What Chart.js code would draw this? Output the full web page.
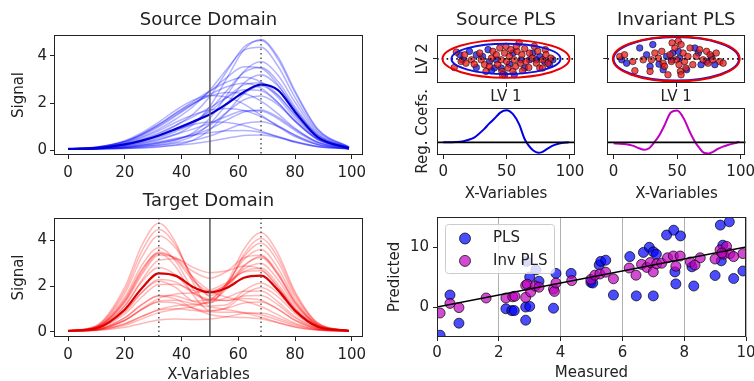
<!DOCTYPE html>
<html lang="en">
  <head>
    <meta charset="UTF-8" />
    <meta name="viewport" content="width=device-width, initial-scale=1.0" />
    <title>Source vs invariant PLS</title>
    <script src="https://cdn.jsdelivr.net/npm/chart.js"></script>
    <style>
      html, body { margin: 0; padding: 0; background: #fff; overflow: hidden; }
      #fig { position: relative; width: 754px; height: 381px; overflow: hidden; background: #fff; }
      .panel { position: absolute; }
    </style>
  </head>
  <body>
    <div id="fig">
      <div class="panel" style="left:0;top:0;width:380px;height:190px"><canvas id="srcSpectra"></canvas></div>
      <div class="panel" style="left:0;top:190px;width:380px;height:194px"><canvas id="tgtSpectra"></canvas></div>
      <div class="panel" style="left:380px;top:0;width:200px;height:106px"><canvas id="srcScores"></canvas></div>
      <div class="panel" style="left:590px;top:0;width:160px;height:106px"><canvas id="invScores"></canvas></div>
      <div class="panel" style="left:380px;top:80px;width:212px;height:123px"><canvas id="srcCoefs"></canvas></div>
      <div class="panel" style="left:590px;top:80px;width:164px;height:123px"><canvas id="invCoefs"></canvas></div>
      <div class="panel" style="left:380px;top:190px;width:374px;height:194px"><canvas id="predPlot"></canvas></div>
    </div>
    <script>
      // ---- spectra (x grid shared by both domains) ----
      const xGrid = [0, 10, 20, 26, 32, 38, 44, 50, 56, 62, 68, 74, 80, 88, 99];
      const spectraTicks = [0, 20, 40, 60, 80, 100];
      const signalTicks = [0, 2, 4];

      const sourceSpectra = [
        [0.05, 0.13, 0.40, 0.74, 1.19, 1.70, 2.11, 2.32, 2.25, 1.95, 1.48, 1.00, 0.57, 0.22, 0.06],
        [0.05, 0.12, 0.37, 0.68, 1.09, 1.56, 1.99, 2.30, 2.45, 2.40, 2.08, 1.54, 0.92, 0.34, 0.08],
        [0.05, 0.11, 0.34, 0.62, 0.99, 1.45, 1.94, 2.49, 3.09, 3.54, 3.48, 2.77, 1.71, 0.62, 0.10],
        [0.05, 0.10, 0.30, 0.56, 0.89, 1.32, 1.84, 2.55, 3.45, 4.25, 4.37, 3.56, 2.23, 0.80, 0.12],
        [0.05, 0.10, 0.29, 0.52, 0.82, 1.18, 1.49, 1.70, 1.77, 1.68, 1.42, 1.04, 0.62, 0.24, 0.06],
        [0.05, 0.09, 0.26, 0.46, 0.73, 1.06, 1.41, 1.81, 2.24, 2.56, 2.52, 2.00, 1.25, 0.46, 0.08],
        [0.05, 0.09, 0.24, 0.43, 0.68, 1.04, 1.52, 2.28, 3.36, 4.38, 4.66, 3.86, 2.44, 0.87, 0.13],
        [0.05, 0.08, 0.21, 0.36, 0.57, 0.85, 1.18, 1.64, 2.24, 2.77, 2.86, 2.34, 1.47, 0.53, 0.09],
        [0.05, 0.08, 0.19, 0.33, 0.52, 0.79, 1.15, 1.72, 2.53, 3.30, 3.51, 2.91, 1.84, 0.66, 0.10],
        [0.05, 0.07, 0.17, 0.30, 0.46, 0.67, 0.89, 1.15, 1.44, 1.67, 1.66, 1.33, 0.83, 0.31, 0.07],
        [0.05, 0.07, 0.16, 0.27, 0.43, 0.67, 1.08, 1.86, 3.06, 4.26, 4.70, 3.96, 2.52, 0.90, 0.13],
        [0.05, 0.06, 0.14, 0.23, 0.35, 0.50, 0.63, 0.74, 0.82, 0.83, 0.75, 0.58, 0.36, 0.15, 0.05],
        [0.04, 0.06, 0.12, 0.20, 0.31, 0.46, 0.69, 1.06, 1.61, 2.14, 2.30, 1.92, 1.22, 0.45, 0.08],
        [0.04, 0.06, 0.11, 0.17, 0.27, 0.42, 0.73, 1.35, 2.34, 3.35, 3.75, 3.18, 2.03, 0.73, 0.11],
        [0.04, 0.05, 0.09, 0.14, 0.20, 0.29, 0.41, 0.60, 0.87, 1.13, 1.20, 1.00, 0.64, 0.25, 0.06],
        [0.04, 0.05, 0.07, 0.10, 0.15, 0.20, 0.27, 0.37, 0.50, 0.62, 0.64, 0.53, 0.35, 0.15, 0.05],
        [0.04, 0.05, 0.07, 0.09, 0.13, 0.22, 0.41, 0.87, 1.61, 2.39, 2.72, 2.32, 1.50, 0.54, 0.09],
        [0.05, 0.12, 0.35, 0.65, 1.04, 1.50, 1.95, 2.36, 2.69, 2.84, 2.63, 2.02, 1.23, 0.45, 0.09],
        [0.05, 0.08, 0.22, 0.39, 0.61, 0.87, 1.08, 1.19, 1.17, 1.04, 0.81, 0.56, 0.33, 0.14, 0.05],
        [0.04, 0.06, 0.12, 0.20, 0.31, 0.45, 0.63, 0.90, 1.28, 1.62, 1.70, 1.40, 0.89, 0.33, 0.07],
        [0.05, 0.12, 0.37, 0.68, 1.09, 1.58, 2.06, 2.51, 2.89, 3.09, 2.88, 2.23, 1.36, 0.49, 0.09],
        [0.04, 0.05, 0.09, 0.14, 0.21, 0.34, 0.59, 1.12, 1.97, 2.85, 3.20, 2.72, 1.74, 0.63, 0.10],
      ];
      const sourceMean = [0.05, 0.08, 0.24, 0.40, 0.62, 0.90, 1.20, 1.52, 1.97, 2.47, 2.78, 2.55, 1.62, 0.55, 0.07];

      const targetSpectra = [
        [0.05, 0.26, 1.81, 3.52, 4.46, 3.76, 2.32, 1.59, 2.09, 3.28, 3.86, 3.04, 1.57, 0.36, 0.05],
        [0.05, 0.24, 1.68, 3.26, 4.19, 3.64, 2.36, 1.52, 1.37, 1.57, 1.59, 1.18, 0.61, 0.16, 0.04],
        [0.05, 0.22, 1.51, 2.91, 3.67, 3.06, 1.86, 1.34, 2.01, 3.38, 4.07, 3.23, 1.67, 0.38, 0.05],
        [0.05, 0.21, 1.37, 2.67, 3.48, 3.14, 2.25, 1.78, 2.06, 2.74, 2.98, 2.27, 1.17, 0.28, 0.05],
        [0.05, 0.20, 1.32, 2.58, 3.41, 3.18, 2.39, 1.79, 1.51, 1.35, 1.11, 0.74, 0.38, 0.12, 0.04],
        [0.05, 0.18, 1.13, 2.18, 2.80, 2.47, 1.70, 1.38, 1.89, 2.86, 3.30, 2.58, 1.33, 0.31, 0.05],
        [0.05, 0.18, 1.14, 2.26, 3.12, 3.19, 2.81, 2.58, 2.66, 2.87, 2.72, 1.94, 0.98, 0.24, 0.05],
        [0.05, 0.15, 0.90, 1.73, 2.22, 1.93, 1.34, 1.26, 2.14, 3.60, 4.32, 3.41, 1.76, 0.40, 0.05],
        [0.04, 0.15, 0.88, 1.71, 2.28, 2.17, 1.71, 1.41, 1.37, 1.46, 1.38, 0.99, 0.51, 0.14, 0.04],
        [0.04, 0.14, 0.78, 1.52, 2.07, 2.08, 1.81, 1.74, 2.08, 2.63, 2.77, 2.08, 1.06, 0.26, 0.04],
        [0.04, 0.11, 0.61, 1.18, 1.59, 1.57, 1.35, 1.43, 2.12, 3.16, 3.59, 2.78, 1.43, 0.33, 0.05],
        [0.04, 0.10, 0.51, 0.98, 1.30, 1.26, 1.03, 0.91, 1.03, 1.26, 1.30, 0.98, 0.51, 0.14, 0.04],
        [0.04, 0.10, 0.51, 1.00, 1.46, 1.65, 1.70, 1.82, 2.16, 2.61, 2.66, 1.96, 1.00, 0.25, 0.04],
        [0.04, 0.08, 0.36, 0.68, 0.95, 1.01, 0.94, 0.88, 0.86, 0.85, 0.75, 0.52, 0.27, 0.09, 0.04],
        [0.04, 0.08, 0.35, 0.67, 0.98, 1.14, 1.19, 1.28, 1.50, 1.77, 1.78, 1.31, 0.67, 0.18, 0.04],
        [0.04, 0.06, 0.20, 0.37, 0.52, 0.56, 0.54, 0.56, 0.66, 0.80, 0.82, 0.61, 0.33, 0.10, 0.04],
        [0.04, 0.10, 0.50, 0.97, 1.34, 1.38, 1.23, 1.09, 0.97, 0.83, 0.64, 0.41, 0.21, 0.08, 0.04],
        [0.05, 0.21, 1.41, 2.73, 3.43, 2.83, 1.63, 0.93, 1.06, 1.63, 1.93, 1.53, 0.80, 0.20, 0.04],
        [0.04, 0.08, 0.29, 0.57, 0.84, 0.99, 1.10, 1.37, 2.02, 2.90, 3.24, 2.49, 1.28, 0.30, 0.05],
        [0.05, 0.20, 1.27, 2.49, 3.34, 3.23, 2.64, 2.34, 2.64, 3.23, 3.34, 2.49, 1.27, 0.30, 0.05],
        [0.04, 0.11, 0.62, 1.20, 1.56, 1.43, 1.04, 0.76, 0.66, 0.63, 0.56, 0.40, 0.21, 0.08, 0.04],
        [0.05, 0.27, 1.95, 3.77, 4.73, 3.87, 2.17, 1.13, 1.18, 1.80, 2.13, 1.69, 0.88, 0.22, 0.05],
      ];
      const targetMean = [0.05, 0.16, 0.98, 1.90, 2.55, 2.44, 1.96, 1.72, 1.92, 2.36, 2.45, 1.82, 0.93, 0.23, 0.05];

      // reference positions marked on the spectra
      const splitVariable = [50];
      const sourcePeaks = [68];
      const targetPeaks = [32, 68];

      // ---- latent-variable scores ----
      const srcRedLV1 = [-0.72, -0.75, -0.65, -0.58, -0.50, -0.46, -0.38, -0.36, -0.31, -0.29, -0.21, -0.19, -0.14, -0.12, -0.09, -0.07, -0.06, -0.05, -0.02, 0.00, 0.01, 0.03, 0.05, 0.07, 0.10, 0.12, 0.14, 0.16, 0.19, 0.21, 0.23, 0.24, 0.27, 0.29, 0.33, 0.34, 0.38, 0.41, 0.44, 0.46, 0.49, 0.53, 0.57, 0.58, 0.61, 0.65, -0.60, -0.24, 0.15, 0.53];
      const srcRedLV2 = [0.28, -0.36, -0.11, -0.18, -0.04, -0.22, 0.24, -0.04, -0.24, -0.52, 0.03, 0.31, 0.17, -0.24, 0.45, -0.04, -0.52, -0.66, 0.24, 0.52, -0.11, -0.38, 0.10, 0.38, -0.52, -0.04, -0.31, 0.31, 0.66, -0.18, 0.17, -0.49, 0.42, -0.11, -0.36, 0.24, 0.03, 0.52, -0.18, 0.31, -0.38, -0.04, 0.38, 0.17, -0.18, 0.03, 0.17, -0.31, 0.52, -0.38];
      const srcBlueLV1 = [-0.67, -0.63, -0.53, -0.43, -0.34, -0.26, -0.24, -0.17, -0.14, -0.07, -0.02, 0.05, 0.10, 0.12, 0.22, 0.27, 0.34, 0.39, 0.44, 0.49, 0.56, 0.63, 0.68, -0.43, -0.21];
      const srcBlueLV2 = [0.17, -0.04, 0.31, -0.36, 0.10, 0.38, -0.11, -0.38, -0.04, -0.38, -0.66, -0.22, 0.24, -0.66, -0.04, -0.38, -0.04, 0.24, -0.04, 0.10, -0.11, -0.24, -0.04, 0.17, -0.49];
      const invRedLV1 = [-0.82, -0.75, -0.63, -0.60, -0.48, -0.38, -0.31, -0.26, -0.21, -0.19, -0.17, -0.09, -0.06, -0.02, 0.00, 0.03, 0.04, 0.06, 0.07, 0.10, 0.12, 0.14, 0.17, 0.20, 0.24, 0.29, 0.34, 0.39, 0.44, 0.46, 0.49, 0.53, 0.58, 0.63, 0.68, -0.36, -0.12, 0.07, -0.07];
      const invRedLV2 = [0.10, 0.17, -0.11, -0.49, -0.04, -0.52, 0.24, 0.03, 0.31, -0.18, -0.31, 0.17, 0.66, 0.45, -0.04, 0.73, -0.24, -0.52, 0.59, 0.24, -0.11, -0.38, 0.10, 0.45, -0.24, 0.10, 0.38, -0.04, 0.31, -0.18, 0.17, -0.04, 0.24, -0.11, -0.18, -0.04, -0.66, -0.66, -0.11];
      const invBlueLV1 = [-0.79, -0.72, -0.53, -0.43, -0.38, -0.34, -0.19, -0.14, -0.07, -0.05, 0.03, 0.05, 0.15, 0.27, 0.32, 0.44, 0.51, 0.56, 0.36, -0.25];
      const invBlueLV2 = [-0.04, -0.18, 0.45, 0.17, -0.31, 0.59, -0.45, 0.10, -0.04, 0.24, 0.31, 0.03, -0.45, 0.45, 0.24, -0.11, 0.10, -0.24, -0.24, -0.22];
      // confidence ellipses: semi-axes along LV1, LV2
      const scoreCenter = [0, 0];
      const srcEllipseBlue = [0.79, 0.63];
      const srcEllipseRed = [0.92, 0.78];
      const invEllipseBlue = [0.91, 0.90];
      const invEllipseRed = [0.92, 0.93];

      // ---- regression coefficients ----
      const coefX = [0, 5, 10, 15, 20, 24, 28, 32, 36, 40, 45, 50, 55, 60, 64, 67, 71, 75, 78, 82, 86, 90, 95, 99];
      const srcCoefs = [0.0, 0.0, 0.01, 0.03, 0.08, 0.14, 0.26, 0.40, 0.57, 0.72, 0.92, 0.99, 0.87, 0.55, 0.12, -0.08, -0.25, -0.32, -0.30, -0.20, -0.11, -0.05, -0.01, 0.0];
      const invCoefs = [-0.03, -0.04, -0.06, -0.10, -0.18, -0.23, -0.18, 0.0, 0.22, 0.52, 0.92, 0.98, 0.75, 0.32, 0.02, -0.15, -0.32, -0.34, -0.30, -0.20, -0.13, -0.08, -0.03, 0.02];
      const coefTicks = [0, 50, 100];

      // ---- measured vs predicted ----
      const plsMeasured = [0.10, 0.42, 0.71, 2.23, 2.42, 2.50, 2.87, 2.87, 3.00, 2.90, 3.20, 3.00, 3.30, 3.77, 3.85, 4.34, 4.98, 5.04, 5.25, 5.30, 5.46, 5.71, 6.24, 6.45, 6.68, 6.87, 7.00, 7.10, 7.00, 7.43, 7.66, 7.88, 7.70, 7.73, 8.25, 8.31, 9.00, 9.17, 9.46, 9.25, 9.20, 9.60, 9.90];
      const plsPredicted = [-4.7, 2.0, -2.7, -0.3, -0.6, -0.6, 0.0, -2.2, 0.1, 7.6, 6.2, 5.0, 4.3, -0.2, 5.6, 5.6, 4.1, 4.0, 7.0, 7.6, 7.8, 2.0, 8.4, 1.85, 9.1, 9.95, 9.2, 8.8, 1.85, 12.0, 12.8, 11.85, 5.85, 3.85, 6.7, 3.5, 5.25, 13.65, 14.2, 10.3, 7.7, 4.75, 6.0];
      const invMeasured = [0.10, 0.42, 0.71, 1.59, 2.23, 2.45, 2.52, 2.87, 2.87, 2.92, 3.03, 3.18, 3.30, 3.77, 3.80, 3.85, 4.36, 4.98, 5.11, 5.27, 5.46, 5.71, 6.22, 6.44, 6.62, 6.79, 6.90, 7.00, 7.11, 7.27, 7.46, 7.65, 7.73, 7.87, 8.20, 8.35, 8.52, 9.00, 9.16, 9.27, 9.37, 9.48, 9.60, 9.90, 9.22];
      const invPredicted = [-1.0, 0.6, -0.1, 1.5, 1.5, 1.7, 1.8, 1.6, 3.6, 3.8, 2.5, 3.5, 3.3, 3.0, 2.6, 4.0, 4.4, 4.6, 5.3, 5.5, 5.8, 4.7, 6.5, 5.3, 7.1, 6.6, 7.4, 5.85, 7.2, 7.3, 8.2, 8.5, 6.8, 8.5, 7.5, 7.0, 8.2, 8.0, 9.5, 8.8, 10.1, 8.9, 8.4, 8.9, 9.0];
      const identityRange = [0, 10];
      const measuredTicks = [0, 2, 4, 6, 8, 10];
      const predictedTicks = [0, 10];

      Chart.defaults.font.family = "'DejaVu Sans', sans-serif";
      Chart.defaults.font.size = 15;
      Chart.defaults.color = "#222";
      Chart.defaults.animation = false;
      Chart.defaults.events = [];
      Chart.defaults.plugins.legend.display = false;
      Chart.defaults.plugins.tooltip.enabled = false;

      const pts = (xs, ys) => xs.map((x, i) => ({ x: x, y: ys[i] }));

      // linear axis with a fixed box size so every panel lines up
      function axis(o) {
        return {
          type: "linear",
          min: o.min,
          max: o.max,
          afterBuildTicks: (s) => { s.ticks = o.ticks.map((v) => ({ value: v })); },
          afterFit: (s) => {
            if (s.isHorizontal()) s.height = o.size; else s.width = o.size;
            s.paddingLeft = s.paddingRight = s.paddingTop = s.paddingBottom = 0;
          },
          grid: {
            display: o.ticks.length > 0,
            drawOnChartArea: !!o.grid,
            color: "#b0b0b0",
            tickColor: "#222",
            tickLength: 4,
            lineWidth: 1,
          },
          border: { display: false },
          ticks: {
            display: o.labels !== false,
            padding: o.tickPad === undefined ? 4 : o.tickPad,
            color: "#222",
            font: { size: 15 },
            maxRotation: 0,
            autoSkip: false,
          },
          title: o.title
            ? { display: true, text: o.title, color: "#222", font: { size: 15 }, padding: o.titlePad }
            : { display: false },
        };
      }

      function panelTitle(text, top, bottom) {
        return {
          display: true, text: text, fullSize: false, color: "#222",
          font: { size: 18, weight: "normal" }, padding: { top: top, bottom: bottom },
        };
      }

      function drawLegend(chart) {
        const { ctx, chartArea: a } = chart;
        const items = chart.data.datasets.filter((d) => d.label);
        const left = a.left + 8, top = a.top + 7;
        ctx.save();
        ctx.fillStyle = "rgba(255,255,255,0.8)";
        ctx.strokeStyle = "#cccccc";
        ctx.lineWidth = 1;
        ctx.beginPath();
        if (ctx.roundRect) ctx.roundRect(left + 0.5, top + 0.5, 109, 49, 3);
        else ctx.rect(left + 0.5, top + 0.5, 109, 49);
        ctx.fill();
        ctx.stroke();
        ctx.font = "15px 'DejaVu Sans'";
        ctx.textBaseline = "middle";
        items.forEach((d, i) => {
          const cy = top + 14.5 + i * 22.4;
          ctx.beginPath();
          ctx.arc(left + 20, cy, 5.5, 0, Math.PI * 2);
          ctx.fillStyle = d.backgroundColor;
          ctx.fill();
          ctx.strokeStyle = d.borderColor;
          ctx.lineWidth = 1;
          ctx.stroke();
          ctx.fillStyle = "#222";
          ctx.fillText(d.label, left + 48, cy);
        });
        ctx.restore();
      }

      // reference lines, ellipses and the axes frame
      function overlay(cfg) {
        return {
          id: "overlay",
          afterDatasetsDraw(chart) {
            const { ctx, chartArea: a, scales } = chart;
            const x = scales.x, y = scales.y;
            ctx.save();
            ctx.beginPath();
            ctx.rect(a.left, a.top, a.width, a.height);
            ctx.clip();
            (cfg.vlines || []).forEach((l) => {
              l.values.forEach((v) => {
                const px = x.getPixelForValue(v);
                ctx.beginPath();
                ctx.setLineDash(l.dash || []);
                ctx.strokeStyle = l.color;
                ctx.lineWidth = l.width;
                ctx.moveTo(px, a.top);
                ctx.lineTo(px, a.bottom);
                ctx.stroke();
              });
            });
            (cfg.hlines || []).forEach((l) => {
              l.values.forEach((v) => {
                const py = y.getPixelForValue(v);
                ctx.beginPath();
                ctx.setLineDash(l.dash || []);
                ctx.strokeStyle = l.color;
                ctx.lineWidth = l.width;
                ctx.moveTo(a.left, py);
                ctx.lineTo(a.right, py);
                ctx.stroke();
              });
            });
            (cfg.ellipses || []).forEach((e) => {
              const cx = x.getPixelForValue(e.center[0]);
              const cy = y.getPixelForValue(e.center[1]);
              const rx = Math.abs(x.getPixelForValue(e.center[0] + e.radii[0]) - cx);
              const ry = Math.abs(y.getPixelForValue(e.center[1] + e.radii[1]) - cy);
              ctx.beginPath();
              ctx.setLineDash([]);
              ctx.strokeStyle = e.color;
              ctx.lineWidth = e.width;
              ctx.ellipse(cx, cy, rx, ry, 0, 0, Math.PI * 2);
              ctx.stroke();
            });
            ctx.restore();
            ctx.save();
            ctx.strokeStyle = "#222";
            ctx.lineWidth = 1;
            ctx.strokeRect(Math.round(a.left) + 0.5, Math.round(a.top) + 0.5,
              Math.round(a.width) - 1, Math.round(a.height) - 1);
            ctx.restore();
            if (cfg.legend) drawLegend(chart);
          },
        };
      }

      function spectraChart(id, o) {
        const datasets = o.curves.map((c) => ({
          data: pts(xGrid, c),
          borderColor: o.faint,
          borderWidth: 1.5,
          pointRadius: 0,
          cubicInterpolationMode: "monotone",
          order: 1,
        }));
        datasets.push({
          data: pts(xGrid, o.mean),
          borderColor: o.strong,
          borderWidth: 2.2,
          pointRadius: 0,
          cubicInterpolationMode: "monotone",
          order: 0,
        });
        return new Chart(document.getElementById(id), {
          type: "line",
          data: { datasets: datasets },
          options: {
            responsive: true,
            maintainAspectRatio: false,
            layout: { padding: { left: 0, right: 17, top: 0, bottom: 0 } },
            plugins: { title: panelTitle(o.title, o.titleTop, o.titleBottom) },
            scales: {
              x: axis({ min: -4.95, max: 103.95, ticks: spectraTicks, size: o.xSize, tickPad: 5,
                title: o.xTitle, titlePad: { bottom: 0 } }),
              y: axis({ min: o.yMin, max: o.yMax, ticks: signalTicks, size: 54, tickPad: 3,
                title: "Signal", titlePad: { top: 10 } }),
            },
          },
          plugins: [overlay({
            vlines: [
              { values: splitVariable, color: "rgba(90,90,90,0.85)", width: 1.8 },
              { values: o.peaks, color: "#555", width: 1.5, dash: [1.5, 3] },
            ],
          })],
        });
      }

      spectraChart("srcSpectra", {
        title: "Source Domain", titleTop: 10, titleBottom: 3.4,
        curves: sourceSpectra, mean: sourceMean,
        faint: "rgba(0,0,255,0.3)", strong: "#0000d0",
        yMin: -0.21, yMax: 4.89, xSize: 35, peaks: sourcePeaks,
      });
      spectraChart("tgtSpectra", {
        title: "Target Domain", titleTop: 0.9, titleBottom: 5.5,
        curves: targetSpectra, mean: targetMean,
        faint: "rgba(255,0,0,0.28)", strong: "#d80000",
        yMin: -0.22, yMax: 4.96, xSize: 47, xTitle: "X-Variables", peaks: targetPeaks,
      });

      function scoresChart(id, o) {
        return new Chart(document.getElementById(id), {
          type: "scatter",
          data: {
            datasets: [
              { data: pts(o.blue[0], o.blue[1]), backgroundColor: "rgba(20,20,235,0.75)",
                borderColor: "rgba(0,0,0,0.65)", borderWidth: 0.8, pointRadius: 3.3, order: 2 },
              { data: pts(o.red[0], o.red[1]), backgroundColor: "rgba(235,25,25,0.75)",
                borderColor: "rgba(0,0,0,0.65)", borderWidth: 0.8, pointRadius: 3.3, order: 1 },
            ],
          },
          options: {
            responsive: true,
            maintainAspectRatio: false,
            layout: { padding: { left: 0, right: o.right, top: 0, bottom: 0 } },
            plugins: { title: panelTitle(o.title, 9.2, 3.9) },
            scales: {
              x: axis({ min: -1, max: 1, ticks: [0], labels: false, size: 23,
                title: "LV 1", titlePad: { bottom: 0 } }),
              y: axis({ min: -1, max: 1, ticks: [0], labels: false, size: o.ySize,
                title: o.yTitle, titlePad: { top: 34 } }),
            },
          },
          plugins: [overlay({
            hlines: [{ values: [0], color: "#111", width: 1.6, dash: [1.6, 3.2] }],
            ellipses: [
              { center: scoreCenter, radii: o.ellBlue, color: "#1010e0", width: 2 },
              { center: scoreCenter, radii: o.ellRed, color: "#e80000", width: 2 },
            ],
          })],
        });
      }

      scoresChart("srcScores", {
        title: "Source PLS", yTitle: "LV 2", ySize: 57, right: 5,
        red: [srcRedLV1, srcRedLV2], blue: [srcBlueLV1, srcBlueLV2],
        ellBlue: srcEllipseBlue, ellRed: srcEllipseRed,
      });
      scoresChart("invScores", {
        title: "Invariant PLS", yTitle: null, ySize: 17.3, right: 4.3,
        red: [invRedLV1, invRedLV2], blue: [invBlueLV1, invBlueLV2],
        ellBlue: invEllipseBlue, ellRed: invEllipseRed,
      });

      function coefChart(id, o) {
        return new Chart(document.getElementById(id), {
          type: "line",
          data: {
            datasets: [{ data: pts(coefX, o.values), borderColor: o.color, borderWidth: 2,
              pointRadius: 0, cubicInterpolationMode: "monotone" }],
          },
          options: {
            responsive: true,
            maintainAspectRatio: false,
            layout: { padding: { left: 0, right: o.right, top: 27.7, bottom: 0 } },
            scales: {
              x: axis({ min: -4.95, max: 103.95, ticks: coefTicks, size: 48, tickPad: 4,
                title: "X-Variables", titlePad: { bottom: 0 } }),
              y: axis({ min: -0.39, max: 1.07, ticks: [], labels: false, size: o.ySize,
                title: o.yTitle, titlePad: { top: 34 } }),
            },
          },
          plugins: [overlay({ hlines: [{ values: [0], color: "#000", width: 1.6 }] })],
        });
      }

      coefChart("srcCoefs", { values: srcCoefs, color: "#0000e6", yTitle: "Reg. Coefs.", ySize: 57, right: 17 });
      coefChart("invCoefs", { values: invCoefs, color: "#bf00bf", yTitle: null, ySize: 17.3, right: 8.3 });

      new Chart(document.getElementById("predPlot"), {
        type: "scatter",
        data: {
          datasets: [
            { type: "line", data: identityRange.map((v) => ({ x: v, y: v })), borderColor: "#000",
              borderWidth: 1.6, pointRadius: 0, order: 0 },
            { label: "PLS", data: pts(plsMeasured, plsPredicted), backgroundColor: "rgba(0,0,255,0.7)",
              borderColor: "rgba(0,0,0,0.7)", borderWidth: 1, pointRadius: 5, order: 2 },
            { label: "Inv PLS", data: pts(invMeasured, invPredicted), backgroundColor: "rgba(191,0,191,0.7)",
              borderColor: "rgba(0,0,0,0.7)", borderWidth: 1, pointRadius: 5, order: 1 },
          ],
        },
        options: {
          responsive: true,
          maintainAspectRatio: false,
          layout: { padding: { left: 0, right: 8, top: 27, bottom: 0 } },
          scales: {
            x: axis({ min: 0, max: 10, ticks: measuredTicks, size: 47, tickPad: 3, grid: true,
              title: "Measured", titlePad: { bottom: 2 } }),
            y: axis({ min: -5, max: 15, ticks: predictedTicks, size: 57, tickPad: 4,
              title: "Predicted", titlePad: { top: 6 } }),
          },
        },
        plugins: [overlay({ legend: true })],
      });
    </script>
  </body>
</html>
